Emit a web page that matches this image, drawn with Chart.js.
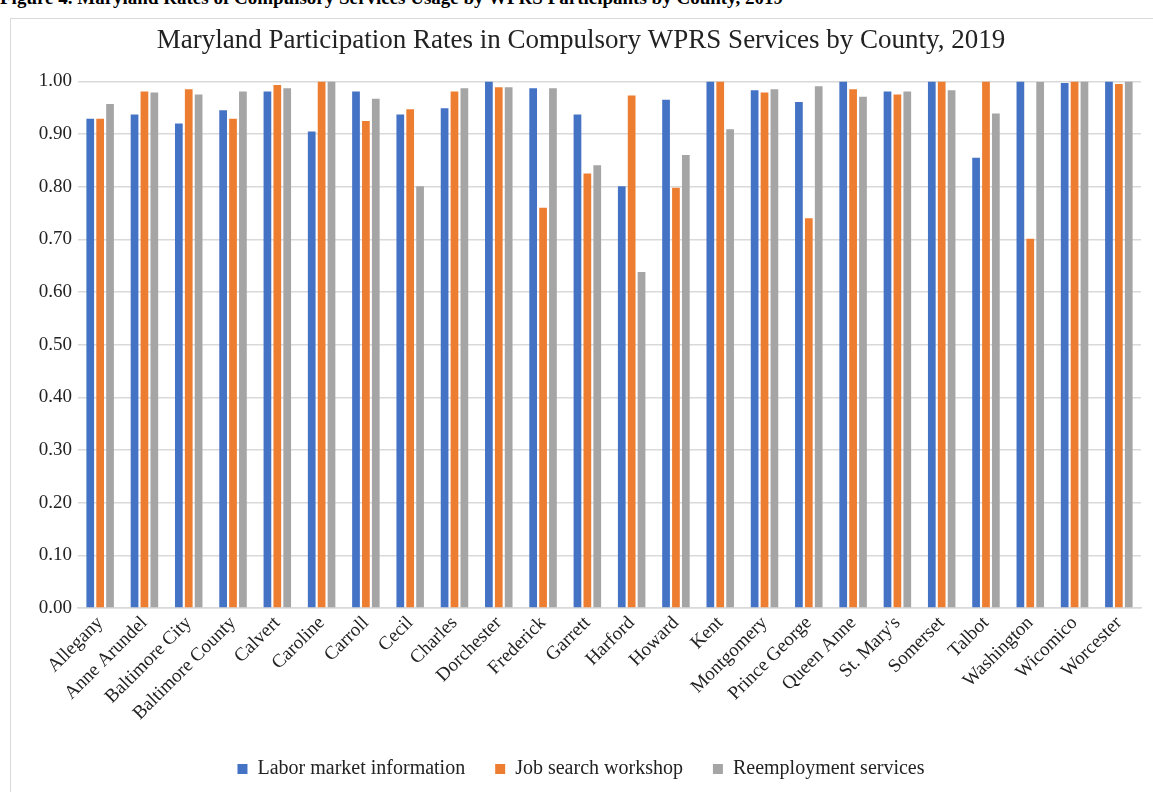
<!DOCTYPE html>
<html>
<head>
<meta charset="utf-8">
<script src="https://cdn.jsdelivr.net/npm/chart.js@4"></script>
<style>
  html, body { margin: 0; padding: 0; background: #fff; overflow: hidden; }
  body { width: 1153px; height: 792px; position: relative; }
  .caption {
    position: absolute; left: 0; top: -13px; width: 1153px;
    font: bold 19px "Liberation Serif", serif; color: #000; white-space: nowrap;
  }
  .frame {
    position: absolute; left: 10px; top: 18px; width: 1150px; height: 780px;
    border: 1px solid #d9d9d9; background: #fff;
  }
  #chart { position: absolute; left: 0; top: 0; }
</style>
</head>
<body>
<div class="caption">Figure 4. Maryland Rates of Compulsory Services Usage by WPRS Participants by County, 2019</div>
<div class="frame"><canvas id="chart" width="1143" height="774"></canvas></div>
<script>
// --- DATA ---
const counties = ['Allegany', 'Anne Arundel', 'Baltimore City', 'Baltimore County', 'Calvert', 'Caroline',
    'Carroll', 'Cecil', 'Charles', 'Dorchester', 'Frederick', 'Garrett', 'Harford', 'Howard', 'Kent',
    'Montgomery', 'Prince George', 'Queen Anne', "St. Mary's", 'Somerset', 'Talbot', 'Washington',
    'Wicomico', 'Worcester'];

const laborMarket = [0.929, 0.937, 0.920, 0.945, 0.981, 0.905, 0.981, 0.937, 0.949, 1.000, 0.987, 0.937,
    0.801, 0.965, 1.000, 0.983, 0.961, 1.000, 0.981, 1.000, 0.855, 1.000, 0.997, 1.000];
const jobSearch = [0.929, 0.981, 0.985, 0.929, 0.993, 1.000, 0.925, 0.947, 0.981, 0.989, 0.760, 0.825,
    0.973, 0.798, 1.000, 0.979, 0.740, 0.985, 0.975, 1.000, 1.000, 0.701, 1.000, 0.995];
const reemployment = [0.957, 0.979, 0.975, 0.981, 0.987, 1.000, 0.967, 0.801, 0.987, 0.989, 0.987, 0.841,
    0.638, 0.860, 0.909, 0.985, 0.991, 0.971, 0.981, 0.983, 0.939, 0.999, 1.000, 1.000];

const seriesNames = ['Labor market information', 'Job search workshop', 'Reemployment services'];
const seriesColors = ['#4472C4', '#ED7D31', '#A5A5A5'];

// --- CHART CONFIG ---
const serif = '"Liberation Serif", "Times New Roman", serif';
const ctx = document.getElementById('chart').getContext('2d');

const mkSet = (i, data) => ({
    label: seriesNames[i],
    data: data,
    backgroundColor: seriesColors[i],
    borderWidth: 0,
    barPercentage: 0.78,
    categoryPercentage: 0.67
});

new Chart(ctx, {
    type: 'bar',
    data: {
        labels: counties,
        datasets: [mkSet(0, laborMarket), mkSet(1, jobSearch), mkSet(2, reemployment)]
    },
    options: {
        responsive: false,
        animation: false,
        layout: { padding: { left: 10, right: 13, top: 0, bottom: 4 } },
        plugins: {
            title: {
                display: true,
                text: 'Maryland Participation Rates in Compulsory WPRS Services by County, 2019',
                color: '#222',
                font: { family: serif, size: 27, weight: 'normal' },
                padding: { top: 6, bottom: 24 }
            },
            legend: {
                position: 'bottom',
                labels: {
                    color: '#222',
                    font: { family: serif, size: 20 },
                    usePointStyle: true,
                    pointStyle: 'rect',
                    boxWidth: 10,
                    boxHeight: 10,
                    padding: 30
                }
            },
            tooltip: { enabled: false }
        },
        scales: {
            x: {
                grid: { display: false },
                border: { color: '#d9d9d9', width: 1.5 },
                ticks: {
                    color: '#222',
                    font: { family: serif, size: 19 },
                    minRotation: 45,
                    maxRotation: 45,
                    autoSkip: false,
                    padding: -4
                },
                afterFit: (scale) => { scale.height = 121; }
            },
            y: {
                min: 0,
                max: 1,
                grid: { color: '#d9d9d9', lineWidth: 1.5, drawTicks: false },
                border: { display: false },
                ticks: {
                    stepSize: 0.1,
                    color: '#222',
                    font: { family: serif, size: 19 },
                    padding: 6,
                    callback: (value) => Number(value).toFixed(2)
                },
                afterFit: (scale) => { scale.width = 57; }
            }
        }
    }
});
</script>
</body>
</html>
